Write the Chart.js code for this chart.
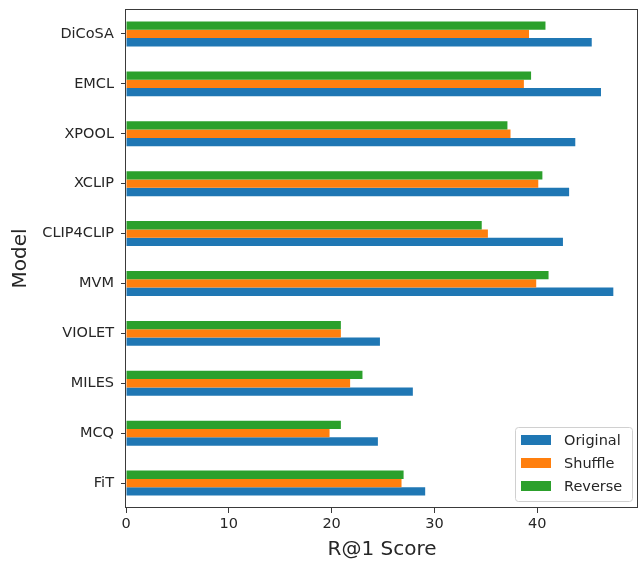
<!DOCTYPE html>
<html>
<head>
<meta charset="utf-8">
<title>R@1 Score by Model</title>
<script src="https://cdn.jsdelivr.net/npm/chart.js@4/dist/chart.umd.min.js"></script>
<style>
  html, body { margin: 0; padding: 0; background: #ffffff; }
  canvas { display: block; }
</style>
</head>
<body>
<canvas id="chart" width="641" height="565"></canvas>
<script>
// Models, top to bottom
const models = ['DiCoSA', 'EMCL', 'XPOOL', 'XCLIP', 'CLIP4CLIP', 'MVM', 'VIOLET', 'MILES', 'MCQ', 'FiT'];

// R@1 scores per setting
const original = [45.3, 46.2, 43.7, 43.1, 42.5, 47.4, 24.7, 27.9, 24.5, 29.1];
const shuffle  = [39.2, 38.7, 37.4, 40.1, 35.2, 39.9, 20.9, 21.8, 19.8, 26.8];
const reverse  = [40.8, 39.4, 37.1, 40.5, 34.6, 41.1, 20.9, 23.0, 20.9, 27.0];

// Score axis ticks and range
const xTicks = [0, 10, 20, 30, 40];
const xMax = 49.8;

const FONT = "'DejaVu Sans', sans-serif";
const TEXT = '#262626';
const SPINE = '#3a3a3a';

// Frame around the plotting area plus a boxed legend in the lower right
const framePlugin = {
  id: 'frameAndLegend',
  afterDraw(chart) {
    const ctx = chart.ctx;
    const a = chart.chartArea;
    ctx.save();
    ctx.strokeStyle = SPINE;
    ctx.lineWidth = 1;
    ctx.strokeRect(Math.round(a.left) - 0.5, Math.round(a.top) + 0.5,
                   Math.round(a.right - a.left), Math.round(a.bottom - a.top) - 1);

    // legend entries in reading order
    const items = chart.data.datasets.slice().reverse();
    const boxL = a.right - 123, boxT = a.bottom - 81, boxW = 117, boxH = 74;
    ctx.fillStyle = 'rgba(255,255,255,0.85)';
    ctx.strokeStyle = '#d0d0d0';
    ctx.lineWidth = 1;
    ctx.beginPath();
    ctx.roundRect(boxL + 0.5, boxT + 0.5, boxW, boxH, 3);
    ctx.fill();
    ctx.stroke();

    ctx.font = '14.5px ' + FONT;
    ctx.textBaseline = 'middle';
    ctx.textAlign = 'left';
    items.forEach((ds, i) => {
      const cy = boxT + 13 + i * 23;
      ctx.fillStyle = ds.backgroundColor;
      ctx.fillRect(boxL + 6, cy - 5, 30, 10);
      ctx.fillStyle = TEXT;
      ctx.fillText(ds.label, boxL + 49, cy + 1);
    });
    ctx.restore();
  }
};

new Chart(document.getElementById('chart'), {
  type: 'bar',
  data: {
    labels: models,
    datasets: [
      { label: 'Reverse',  data: reverse,  backgroundColor: '#2ca02c' },
      { label: 'Shuffle',  data: shuffle,  backgroundColor: '#ff7f0e' },
      { label: 'Original', data: original, backgroundColor: '#1f77b4' }
    ]
  },
  options: {
    indexAxis: 'y',
    responsive: false,
    animation: false,
    devicePixelRatio: 1,
    datasets: {
      bar: { categoryPercentage: 0.5, barPercentage: 1.0, borderWidth: 0 }
    },
    layout: { padding: { top: 9, right: 3, bottom: 0, left: 0 } },
    plugins: {
      legend: { display: false },
      tooltip: { enabled: false }
    },
    scales: {
      x: {
        type: 'linear',
        min: 0,
        max: xMax,
        afterBuildTicks(scale) {
          scale.ticks = xTicks.map(v => ({ value: v }));
        },
        afterFit(scale) {
          scale.height = 57;
          scale.paddingLeft = 0;
          scale.paddingRight = 0;
        },
        border: { display: false },
        grid: {
          drawOnChartArea: false,
          drawTicks: true,
          tickLength: 5,
          tickColor: SPINE,
          lineWidth: 1
        },
        ticks: {
          color: TEXT,
          font: { family: FONT, size: 14.5 },
          padding: 3,
          maxRotation: 0
        },
        title: {
          display: true,
          text: 'R@1 Score',
          color: TEXT,
          font: { family: FONT, size: 20 },
          padding: { top: 0, bottom: 3 }
        }
      },
      y: {
        afterFit(scale) {
          scale.width = 126;
          scale.paddingTop = 0;
          scale.paddingBottom = 0;
        },
        border: { display: false },
        grid: {
          offset: false,
          drawOnChartArea: false,
          drawTicks: true,
          tickLength: 5,
          tickColor: SPINE,
          lineWidth: 1
        },
        ticks: {
          color: TEXT,
          font: { family: FONT, size: 14.5 },
          padding: 7
        },
        title: {
          display: true,
          text: 'Model',
          color: TEXT,
          font: { family: FONT, size: 20 },
          padding: { top: 9, bottom: 0 }
        }
      }
    }
  },
  plugins: [framePlugin]
});
</script>
</body>
</html>
